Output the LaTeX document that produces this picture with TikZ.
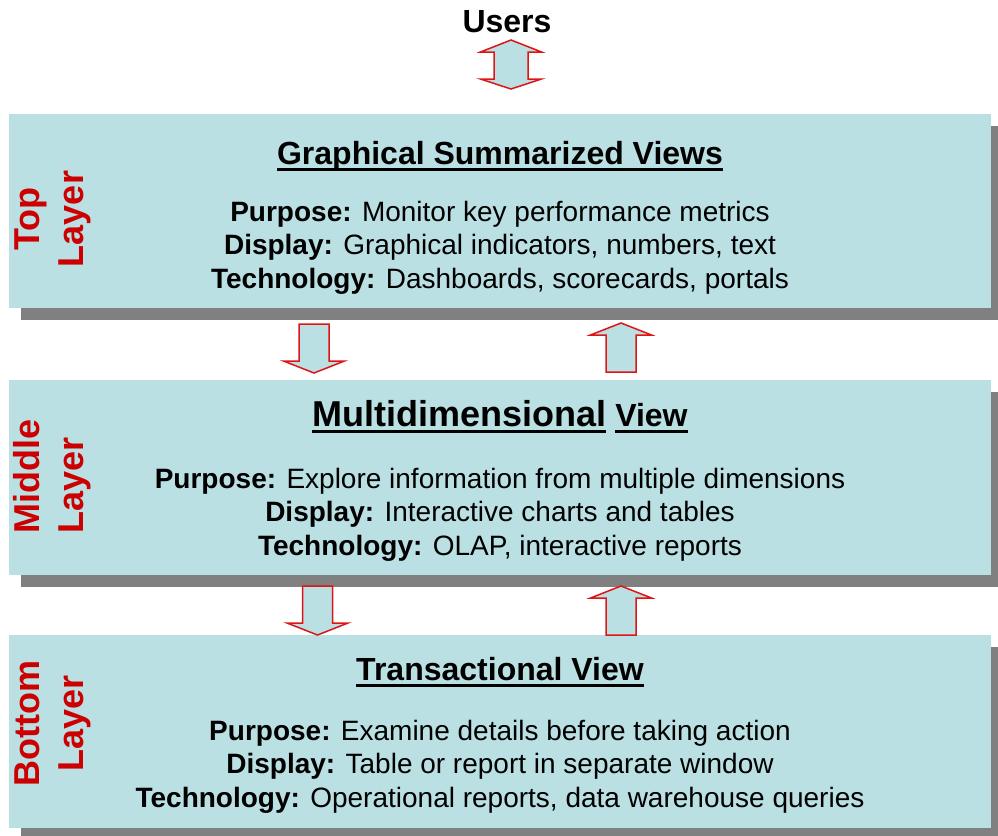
\documentclass[tikz,border=0pt]{standalone}
\usepackage{fontspec}
\setmainfont{Liberation Sans}
\usetikzlibrary{calc,shadows}
\definecolor{layerfill}{RGB}{186,224,227}
\definecolor{layerred}{RGB}{204,0,0}
\definecolor{arrowred}{RGB}{224,20,20}
\definecolor{shadowgray}{RGB}{128,128,128}
\newcommand\titleline[1]{\setbox0\hbox{#1}\rlap{\vrule width\wd0 height -3.5pt depth 6.5pt}\box0\relax}
\tikzset{
  layerbox/.style={rectangle,fill=layerfill,minimum width=982pt,inner sep=0pt,outer sep=0pt,anchor=north west,
    drop shadow={shadow xshift=12pt,shadow yshift=-12pt,fill=shadowgray,opacity=1}},
  layername/.style={rotate=90,anchor=base,align=center,text=layerred,font=\fontsize{36}{44}\selectfont\bfseries},
  viewtitle/.style={anchor=base,font=\fontsize{32}{38}\selectfont\bfseries},
  viewtext/.style={anchor=base,align=center,font=\fontsize{28}{33.5}\selectfont},
  blockarrow/.style={fill=layerfill,draw=arrowred,line width=1.5pt,line join=miter},
  downarrow/.pic={\draw[blockarrow] (-15,0)--(-15,37)--(-30.5,37)--(0,49)--(30.5,37)--(15,37)--(15,0)--cycle;},
  uparrow/.pic={\draw[blockarrow] (-15,0)--(-15,-37)--(-30.5,-37)--(0,-49)--(30.5,-37)--(15,-37)--(15,0)--cycle;},
  usersarrow/.pic={\draw[blockarrow] (0,0)--(30.5,12)--(17,12)--(17,39)--(30.5,39)--(0,49)--(-30.5,39)--(-17,39)--(-17,12)--(-30.5,12)--cycle;}
}
\begin{document}
\begin{tikzpicture}[x=1pt,y=-1pt]
  \useasboundingbox (0,0) rectangle (998,835);
  % the three layers
  \node[layerbox,minimum height=194pt] (top) at (9,114) {};
  \node[layerbox,minimum height=195pt] (middle) at (9,380) {};
  \node[layerbox,minimum height=193pt] (bottom) at (9,635) {};
  % users and the arrows between the layers
  \node[viewtitle] (users) at (507,32) {Users};
  \pic at ($(top.north)+(11,-74)$) {usersarrow};
  \pic at ($(top.south)+(-186,16)$) {downarrow};
  \pic at ($(middle.north)+(121,-8)$) {uparrow};
  \pic at ($(middle.south)+(-182.5,11)$) {downarrow};
  \pic at ($(bottom.north)+(121,0)$) {uparrow};
  % layer names
  \node[layername] (toplabel) at ($(top.west)+(74,8)$) {Top\\Layer};
  \node[layername,align=left] (middlelabel) at ($(middle.west)+(74,-1)$) {Middle\\Layer};
  \node[layername] (bottomlabel) at ($(bottom.west)+(74,-8)$) {Bottom\\Layer};
  % top layer
  \node[viewtitle] (toptitle) at ($(top.north)+(0,50)$) {\titleline{Graphical Summarized Views}};
  \node[viewtext] (toptext) at ($(top.north)+(0,174)$) {\textbf{Purpose:} Monitor key performance metrics\\
    \textbf{Display:} Graphical indicators, numbers, text\\
    \textbf{Technology:} Dashboards, scorecards, portals};
  % middle layer
  \node[viewtitle] (middletitle) at ($(middle.north)+(0,46)$) {\titleline{\fontsize{36}{40}\selectfont Multidimensional} \titleline{View}};
  \node[viewtext] (middletext) at ($(middle.north)+(0,175)$) {\textbf{Purpose:} Explore information from multiple dimensions\\
    \textbf{Display:} Interactive charts and tables\\
    \textbf{Technology:} OLAP, interactive reports};
  % bottom layer
  \node[viewtitle] (bottomtitle) at ($(bottom.north)+(0,45)$) {\titleline{Transactional View}};
  \node[viewtext] (bottomtext) at ($(bottom.north)+(0,172)$) {\textbf{Purpose:} Examine details before taking action\\
    \textbf{Display:} Table or report in separate window\\
    \textbf{Technology:} Operational reports, data warehouse queries};
\end{tikzpicture}
\end{document}
